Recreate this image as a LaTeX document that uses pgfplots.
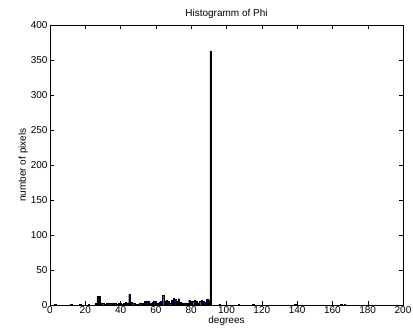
\documentclass[border=0pt]{standalone}
\usepackage{pgfplots}
\pgfplotsset{compat=1.18}
\usepackage{fontspec}
\setmainfont{Liberation Sans}
\definecolor{barnavy}{rgb}{0,0,0.5}
\begin{document}
\begin{tikzpicture}
\begin{axis}[
  scale only axis,
  width=353pt, height=280pt,
  xmin=0, xmax=200, ymin=0, ymax=400,
  xtick={0,20,...,200}, ytick={0,50,...,400},
  tick align=inside,
  major tick length=4pt,
  tick pos=both,
  tick style={black, line width=0.4pt},
  axis line style={line width=0.5pt},
  title={Histogramm of Phi},
  title style={font=\fontsize{10}{11}\selectfont, yshift=-3pt},
  xlabel={degrees}, ylabel={number of pixels},
  label style={font=\fontsize{10}{11}\selectfont},
  xlabel style={yshift=4pt},
  ylabel style={yshift=-4pt},
  tick label style={font=\fontsize{10}{11}\selectfont},
  /pgf/number format/assume math mode=true,
  xticklabel style={yshift=2pt},
  yticklabel style={xshift=1pt},
]
\addplot[ybar, bar width=0.8, bar shift=0pt, fill=barnavy, draw=black, line width=0.3pt] coordinates {
(3,1) (12,1) (17,1) (22,1) (26,2) (27,12) (28,12) (29,3) (30,2) (31,1) (32,2) (33,3) (34,2) (35,2) (36,3) (37,3) (38,1) (39,2) (40,3) (41,1) (42,2) (43,4) (44,3) (45,15) (46,4) (47,3) (48,2) (49,1) (50,1) (51,2) (52,3) (53,2) (54,5) (55,6) (56,5) (57,2) (58,4) (59,6) (60,5) (61,2) (62,4) (63,5) (64,14) (65,6) (66,7) (67,5) (68,3) (69,7) (70,10) (71,8) (72,6) (73,9) (74,4) (75,3) (76,2) (77,3) (78,2) (79,7) (80,4) (81,6) (82,7) (83,6) (84,3) (85,5) (86,7) (87,6) (88,4) (89,8) (90,7) (91,362) (96,1) (107,1) (115,1) (139,1) (165,1) (167,1)
};
\end{axis}
\pgfresetboundingbox
\path (-50pt,-30pt) rectangle (363pt,305pt);
\end{tikzpicture}
\end{document}
